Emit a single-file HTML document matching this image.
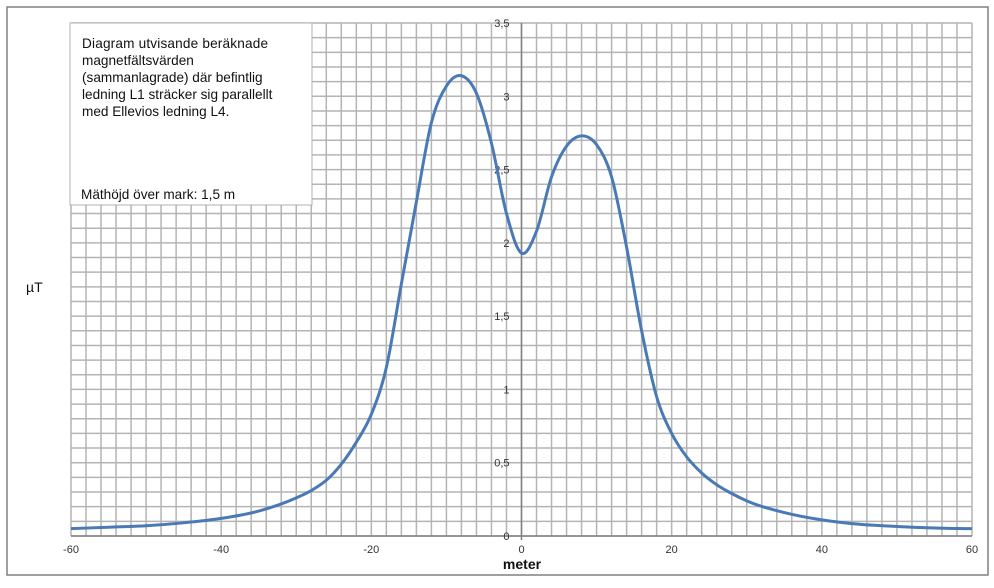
<!DOCTYPE html>
<html><head><meta charset="utf-8"><style>
body{margin:0;background:#fff;}
svg text{font-family:"Liberation Sans",sans-serif;}
</style></head><body>
<svg width="994" height="583" viewBox="0 0 994 583">
<rect x="7" y="7" width="981" height="568" fill="#fff" stroke="#808080" stroke-width="1.5"/>
<g id="grid"></g>
<g id="axes"></g>
<path id="curve" fill="none" stroke="#4a7ab5" stroke-width="3"/>
<g>
<rect x="70" y="23" width="242" height="182" fill="#fff" stroke="#b0b0b0" stroke-width="1"/>
<text font-size="13.6" fill="#111">
<tspan x="82" y="48" textLength="186">Diagram utvisande beräknade</tspan>
<tspan x="82" y="65">magnetfältsvärden</tspan>
<tspan x="82" y="82">(sammanlagrade) där befintlig</tspan>
<tspan x="82" y="99">ledning L1 sträcker sig parallellt</tspan>
<tspan x="82" y="116">med Ellevios ledning L4.</tspan>
<tspan x="81" y="199">Mäthöjd över mark: 1,5 m</tspan>
</text>
</g>
<text x="26" y="292" font-size="14" fill="#111">µT</text>
<text x="522" y="569" font-size="14" font-weight="bold" text-anchor="middle" fill="#111">meter</text>
</svg>
<script>
const xs=[-60,-55,-50,-45,-40,-35,-30,-28,-26,-24,-22,-20,-18,-16,-14,-12,-10,-8,-6,-4,-2,0,2,4,6,8,10,12,14,16,18,20,22,24,26,28,30,35,40,45,50,55,60];
const ys=[0.05,0.06,0.07,0.09,0.12,0.17,0.26,0.31,0.38,0.49,0.64,0.83,1.15,1.72,2.28,2.82,3.07,3.14,3.02,2.68,2.2,1.93,2.08,2.45,2.66,2.73,2.67,2.45,1.97,1.4,0.95,0.7,0.54,0.43,0.35,0.29,0.24,0.16,0.11,0.08,0.065,0.055,0.05];
const xTicks=[-60,-40,-20,0,20,40,60];
const yTicks=[0,0.5,1,1.5,2,2.5,3,3.5];
const X0=71,X1=972,Y0=536,Y1=23;
const sx=v=>X0+(v+60)/120*(X1-X0);
const sy=v=>Y0-v/3.5*(Y0-Y1);
const ns="http://www.w3.org/2000/svg";
const grid=document.getElementById('grid'),axes=document.getElementById('axes');
function line(p,x1,y1,x2,y2,c,w,n){const l=document.createElementNS(ns,'line');l.setAttribute('x1',x1);l.setAttribute('y1',y1);l.setAttribute('x2',x2);l.setAttribute('y2',y2);l.setAttribute('stroke',c);l.setAttribute('stroke-width',w);


p.appendChild(l);}
function text(p,x,y,s,a,n){const t=document.createElementNS(ns,'text');t.setAttribute('x',x);t.setAttribute('y',y);t.setAttribute('font-size','11');t.setAttribute('text-anchor',a);t.setAttribute('fill','#333');t.textContent=s;


p.appendChild(t);}
for(let v=-60;v<=60;v+=2)line(grid,sx(v),Y1,sx(v),Y0,'#b4b4b4',1.5,'v-gridline');
for(let i=0;i<=35;i++)line(grid,X0,sy(i/10),X1,sy(i/10),'#b4b4b4',1.5,'h-gridline');
line(axes,sx(0),Y1,sx(0),Y0+4,'#808080',1.5,'y-axis');
line(axes,X0,Y0,X1,Y0,'#808080',1.5,'x-axis');
xTicks.forEach(v=>text(axes,sx(v),553,String(v),'middle','x-tick-label'));
yTicks.forEach(v=>text(axes,sx(0)-12,sy(v)+4,String(v).replace('.',','),'end','y-tick-label'));
// Hermite spline in data space with non-uniform x
const n=xs.length;
const m=xs.map((x,i)=>{
  if(i===0)return (ys[1]-ys[0])/(xs[1]-xs[0]);
  if(i===n-1)return (ys[n-1]-ys[n-2])/(xs[n-1]-xs[n-2]);
  const d0=(ys[i]-ys[i-1])/(xs[i]-xs[i-1]),d1=(ys[i+1]-ys[i])/(xs[i+1]-xs[i]);
  const h0=xs[i]-xs[i-1],h1=xs[i+1]-xs[i];
  return (d0*h1+d1*h0)/(h0+h1);
});
let d='M'+sx(xs[0])+','+sy(ys[0]);
for(let i=0;i<n-1;i++){
  const h=xs[i+1]-xs[i];
  const c1x=xs[i]+h/3,c1y=ys[i]+m[i]*h/3;
  const c2x=xs[i+1]-h/3,c2y=ys[i+1]-m[i+1]*h/3;
  d+=' C'+sx(c1x)+','+sy(c1y)+' '+sx(c2x)+','+sy(c2y)+' '+sx(xs[i+1])+','+sy(ys[i+1]);
}
document.getElementById('curve').setAttribute('d',d);
</script>
</body></html>
